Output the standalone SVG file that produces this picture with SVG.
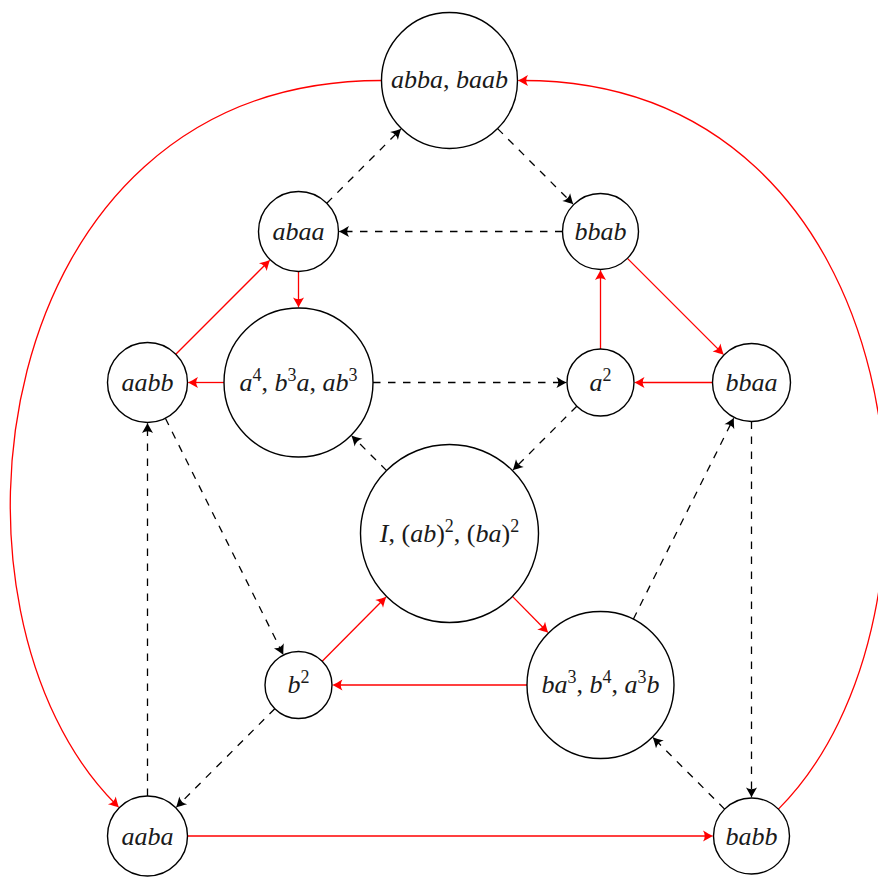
<svg xmlns="http://www.w3.org/2000/svg" width="878" height="877" viewBox="0 0 878 877">
<style>
.node circle{fill:#fff;stroke:#000;stroke-width:1.4}
.t{font-family:"Liberation Serif","Times New Roman","DejaVu Serif",serif;font-style:italic;font-size:26px;text-anchor:middle;fill:#1a1a1a}
.r{font-style:normal}
.sp{font-style:normal;font-size:18px}
.d{fill:none;stroke:#000;stroke-width:1.3;stroke-dasharray:7.5 7.5;marker-end:url(#ak)}
.s{fill:none;stroke:#f00;stroke-width:1.3;marker-end:url(#ar)}
</style>
<defs>
<marker id="ak" markerUnits="userSpaceOnUse" viewBox="-7 -7 14 14" markerWidth="14" markerHeight="14" refX="0" refY="0" orient="auto" overflow="visible">
<path d="M5,0 C2,-1 -2,-3.5 -5.5,-5.5 Q-2,0 -5.5,5.5 C-2,3.5 2,1 5,0 Z" fill="#000"/>
</marker>
<marker id="ar" markerUnits="userSpaceOnUse" viewBox="-7 -7 14 14" markerWidth="14" markerHeight="14" refX="0" refY="0" orient="auto" overflow="visible">
<path d="M5,0 C2,-1 -2,-3.5 -5.5,-5.5 Q-2,0 -5.5,5.5 C-2,3.5 2,1 5,0 Z" fill="#f00"/>
</marker>
</defs>
<g id="connectors">
<path class="d" d="M326.8,203.2 L397.9,132.1"/>
<path class="d" d="M497.6,128.6 L570.1,201.1"/>
<path class="d" d="M562.5,231.5 L343.5,231.5"/>
<path class="d" d="M373,382.5 L562,382.5"/>
<path class="d" d="M576.8,406.2 L516,467"/>
<path class="d" d="M386.6,470.6 L354.7,438.7"/>
<path class="d" d="M165.4,418.3 L281.3,650.6"/>
<path class="d" d="M274.8,708.7 L179.3,804.2"/>
<path class="d" d="M147.5,796 L147.5,427.5"/>
<path class="d" d="M633.3,619.2 L731.8,421.9"/>
<path class="d" d="M751.5,421.5 L751.5,793"/>
<path class="d" d="M724.6,809.1 L656,740.5"/>
<path class="s" d="M187.5,836 L708.5,836"/>
<path class="s" d="M175.8,354.2 L266.7,263.3"/>
<path class="s" d="M298.5,271.5 L298.5,303"/>
<path class="s" d="M224,382.5 L192.5,382.5"/>
<path class="s" d="M627.4,258.4 L720.4,351.4"/>
<path class="s" d="M712.5,382.5 L639,382.5"/>
<path class="s" d="M600.5,349 L600.5,274.5"/>
<path class="s" d="M322.2,661.3 L383,600"/>
<path class="s" d="M512.4,596.4 L545,629.5"/>
<path class="s" d="M527,685 L337,685"/>
<path class="s" d="M381.5,80.5 C-18.5,80.5 -75.2,613.3 115.7,804.2"/>
<path class="s" d="M778.4,809.1 C969.3,618.2 917.5,80.5 522.5,80.5"/>
</g>
<g id="n-abba" class="node"><circle cx="449.5" cy="80.5" r="68"/><text class="t" x="449.5" y="88">abba<tspan class="r">, </tspan>baab</text></g>
<g id="n-abaa" class="node"><circle cx="298.5" cy="231.5" r="40"/><text class="t" x="298.5" y="240">abaa</text></g>
<g id="n-bbab" class="node"><circle cx="600.5" cy="231.5" r="38"/><text class="t" x="600.5" y="240">bbab</text></g>
<g id="n-aabb" class="node"><circle cx="147.5" cy="382.5" r="40"/><text class="t" x="147.5" y="391">aabb</text></g>
<g id="n-a4" class="node"><circle cx="298.5" cy="382.5" r="74.5"/><text class="t" x="298.5" y="390.5">a<tspan class="sp" dy="-10">4</tspan><tspan class="r" dy="10">, </tspan>b<tspan class="sp" dy="-10">3</tspan><tspan dy="10">a</tspan><tspan class="r">, </tspan>ab<tspan class="sp" dy="-10">3</tspan></text></g>
<g id="n-a2" class="node"><circle cx="600.5" cy="382.5" r="33.5"/><text class="t" x="600.5" y="390.5">a<tspan class="sp" dy="-10">2</tspan></text></g>
<g id="n-bbaa" class="node"><circle cx="751.5" cy="382.5" r="39"/><text class="t" x="751.5" y="391">bbaa</text></g>
<g id="n-I" class="node"><circle cx="449.5" cy="533.5" r="89"/><text class="t" x="449.5" y="541.5">I<tspan class="r">, (</tspan>ab<tspan class="r">)</tspan><tspan class="sp" dy="-10">2</tspan><tspan class="r" dy="10">, (</tspan>ba<tspan class="r">)</tspan><tspan class="sp" dy="-10">2</tspan></text></g>
<g id="n-b2" class="node"><circle cx="298.5" cy="685" r="33.5"/><text class="t" x="298.5" y="693">b<tspan class="sp" dy="-10">2</tspan></text></g>
<g id="n-ba3" class="node"><circle cx="600.5" cy="685" r="73.5"/><text class="t" x="600.5" y="693">ba<tspan class="sp" dy="-10">3</tspan><tspan class="r" dy="10">, </tspan>b<tspan class="sp" dy="-10">4</tspan><tspan class="r" dy="10">, </tspan>a<tspan class="sp" dy="-10">3</tspan><tspan dy="10">b</tspan></text></g>
<g id="n-aaba" class="node"><circle cx="147.5" cy="836" r="40"/><text class="t" x="147.5" y="844.5">aaba</text></g>
<g id="n-babb" class="node"><circle cx="751.5" cy="836" r="38"/><text class="t" x="751.5" y="844.5">babb</text></g>
</svg>
